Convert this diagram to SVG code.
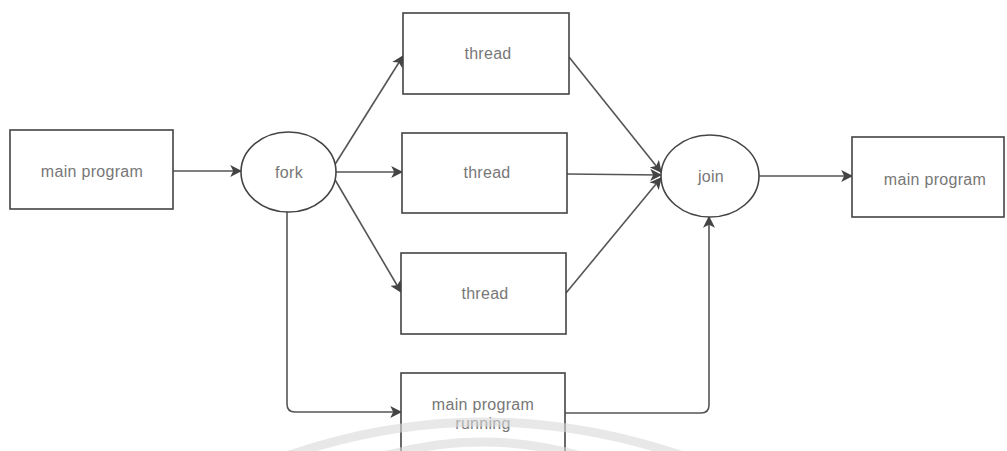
<svg xmlns="http://www.w3.org/2000/svg" width="1007" height="451" viewBox="0 0 1007 451">
  <defs>
    <marker id="arr" viewBox="0 0 10 10" refX="9" refY="5" markerWidth="12" markerHeight="12" markerUnits="userSpaceOnUse" orient="auto">
      <path d="M0,0 L10,5 L0,10 L2.5,5 Z" fill="#444"/>
    </marker>
  </defs>
  <style>
    .box { fill: #fff; stroke: #444; stroke-width: 1.6; }
    .conn { fill: none; stroke: #555; stroke-width: 1.6; marker-end: url(#arr); }
    .lbl { font-family: "Liberation Sans", Arial, sans-serif; font-size: 16px; fill: #777; text-anchor: middle; letter-spacing: 0.3px; }
    .wm { fill: none; stroke: #d8d8d8; stroke-width: 9; opacity: 0.6; }
  </style>
  <rect width="1007" height="451" fill="#fff"/>
  <g id="connectors">
    <line class="conn" x1="334" y1="166" x2="403" y2="56"/>
    <line class="conn" x1="173" y1="171" x2="241" y2="171"/>
    <line class="conn" x1="336" y1="172" x2="402" y2="172"/>
    <line class="conn" x1="334" y1="178" x2="401" y2="292"/>
    <line class="conn" x1="569" y1="57" x2="661" y2="172"/>
    <line class="conn" x1="567" y1="174" x2="661" y2="175"/>
    <line class="conn" x1="566" y1="293" x2="661" y2="178"/>
    <line class="conn" x1="759" y1="176" x2="852" y2="176"/>
    <path class="conn" d="M287,212 L287,404 Q287,412 295,412 L401,412"/>
    <path class="conn" d="M565,413 L701,413 Q709,413 709,405 L709,217"/>
  </g>
  <g id="main-program-left">
    <rect class="box" x="10" y="130" width="163" height="79"/>
    <text class="lbl" x="92" y="177">main program</text>
  </g>
  <g id="fork">
    <ellipse class="box" cx="288.5" cy="172" rx="47.5" ry="40"/>
    <text class="lbl" x="289" y="178">fork</text>
  </g>
  <g id="thread-top">
    <rect class="box" x="403" y="13" width="166" height="81"/>
    <text class="lbl" x="488" y="59">thread</text>
  </g>
  <g id="thread-mid">
    <rect class="box" x="402" y="133" width="165" height="80"/>
    <text class="lbl" x="487" y="178">thread</text>
  </g>
  <g id="thread-bottom">
    <rect class="box" x="401" y="253" width="165" height="81"/>
    <text class="lbl" x="485" y="299">thread</text>
  </g>
  <g id="main-program-running">
    <rect class="box" x="401" y="373" width="164" height="95"/>
    <text class="lbl" x="483" y="410">main program</text>
    <text class="lbl" x="483" y="429">running</text>
  </g>
  <g id="join">
    <ellipse class="box" cx="710" cy="176" rx="49" ry="41"/>
    <text class="lbl" x="711" y="182">join</text>
  </g>
  <g id="main-program-right">
    <rect class="box" x="852" y="137" width="152" height="80"/>
    <text class="lbl" x="935" y="185">main program</text>
  </g>
  <g id="watermark">
    <path class="wm" d="M270,462 Q483,382 700,462"/>
    <path class="wm" d="M365,462 Q483,422 600,462"/>
  </g>
</svg>
